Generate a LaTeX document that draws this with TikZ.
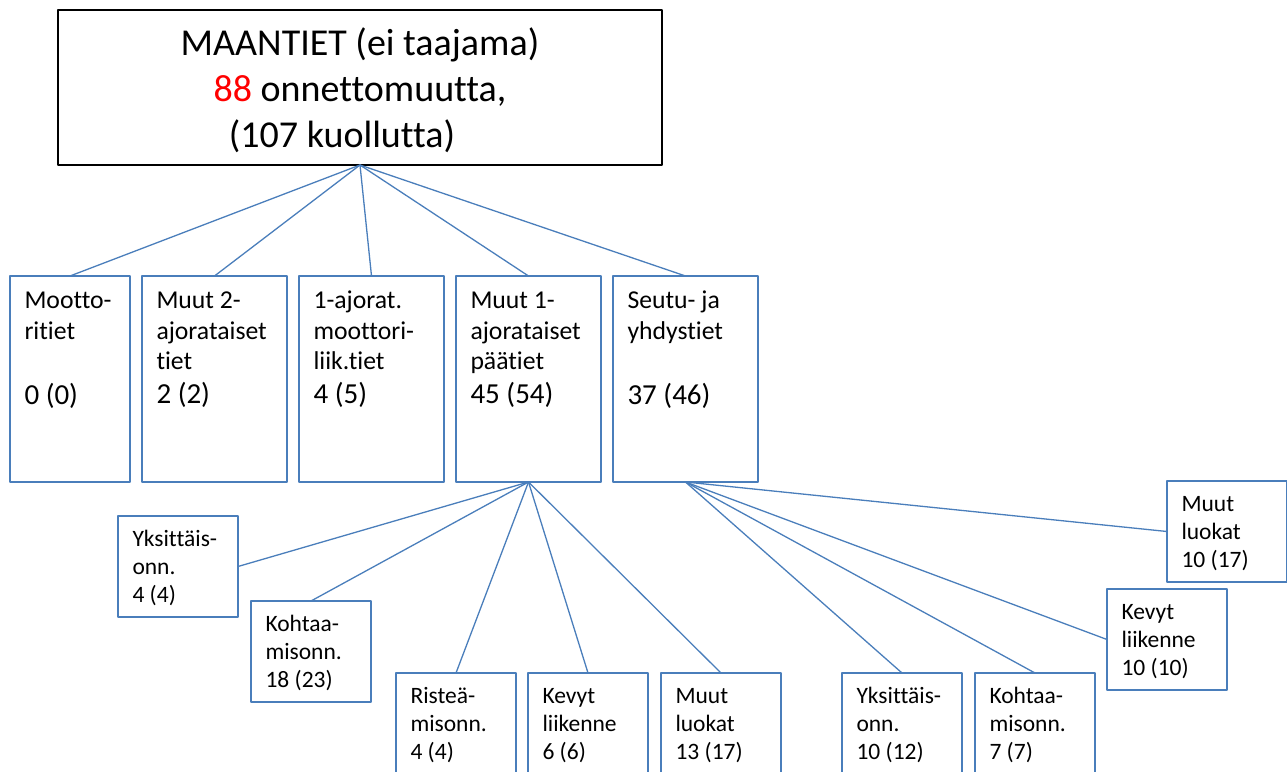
\documentclass[tikz,border=0pt]{standalone}
\usepackage{fontspec}
\setmainfont{Carlito}[Ligatures=NoCommon]
\definecolor{linkblue}{RGB}{74,126,187}
\newcommand{\cellbig}[2]{\parbox[c][206pt][t]{#1}{\raggedright\fontsize{25.7}{30.5}\selectfont\rule{0pt}{32.5pt}#2}}
\newcommand{\cellsmall}[1]{\parbox[c][101pt][t]{91pt}{\raggedright\fontsize{23.5}{28}\selectfont\rule{0pt}{30pt}#1}}
\newcommand{\numbig}[1]{{\fontsize{29}{30.5}\selectfont #1}}

\begin{document}
\begin{tikzpicture}[x=1pt,y=-1pt,line join=round,
	box/.style={draw=linkblue,line width=1.3pt,inner xsep=14.5pt,inner ysep=0pt,outer sep=0pt,anchor=north west},
	link/.style={draw=linkblue,line width=1.3pt}]
	\useasboundingbox (0,0) rectangle (1287,771);
	\node[draw,line width=1.3pt,inner sep=0pt,outer sep=0pt,anchor=north west] (top) at (58,10)
		{\parbox[c][155pt][t]{604pt}{\centering\fontsize{38}{46}\selectfont\rule{0pt}{45pt}MAANTIET (ei taajama)\\ \textcolor{red}{88} onnettomuutta,\\ (107 kuollutta)\hspace*{36pt}}};
	\node[box] (b1) at (10,276) {\cellbig{91pt}{Mootto-\\ ritiet\\[34.5pt] \numbig{0 (0)}}};
	\node[box] (b2) at (142,276) {\cellbig{116pt}{Muut 2-\\ ajorataiset\\ tiet\\[3.5pt] \numbig{2 (2)}}};
	\node[box] (b3) at (299,276) {\cellbig{116pt}{1-ajorat.\\ moottori-\\ liik.tiet\\[3.5pt] \numbig{4 (5)}}};
	\node[box] (b4) at (456,276) {\cellbig{116pt}{Muut 1-\\ ajorataiset\\ päätiet\\[3.5pt] \numbig{45 (54)}}};
	\node[box] (b5) at (613,276) {\cellbig{116pt}{Seutu- ja\\ yhdystiet\\[34.5pt] \numbig{37 (46)}}};
	\foreach \c in {b1,b2,b3,b4,b5}
		\draw[link] (top.south) -- (\c.north);

	\node[box] (y1) at (118,516) {\cellsmall{Yksittäis-\\ onn.\\ 4 (4)}};
	\node[box] (k1) at (251,601) {\cellsmall{Kohtaa-\\ misonn.\\ 18 (23)}};
	\node[box] (r1) at (396,673) {\cellsmall{Risteä-\\ misonn.\\ 4 (4)}};
	\node[box] (kv1) at (528,673) {\cellsmall{Kevyt\\ liikenne\\ 6 (6)}};
	\node[box] (m1) at (661,673) {\cellsmall{Muut\\ luokat\\ 13 (17)}};
	\draw[link] (b4.south) -- (y1.east);
	\foreach \c in {k1,r1,kv1,m1}
		\draw[link] (b4.south) -- (\c.north);

	\node[box] (y2) at (842,673) {\cellsmall{Yksittäis-\\ onn.\\ 10 (12)}};
	\node[box] (k2) at (975,673) {\cellsmall{Kohtaa-\\ misonn.\\ 7 (7)}};
	\node[box] (kv2) at (1107,589) {\cellsmall{Kevyt\\ liikenne\\ 10 (10)}};
	\node[box] (m2) at (1167,481) {\cellsmall{Muut\\ luokat\\ 10 (17)}};
	\draw[link] (b5.south) -- (y2.north);
	\draw[link] (b5.south) -- (k2.north);
	\draw[link] (b5.south) -- (kv2.west);
	\draw[link] (b5.south) -- (m2.west);
\end{tikzpicture}
\end{document}
